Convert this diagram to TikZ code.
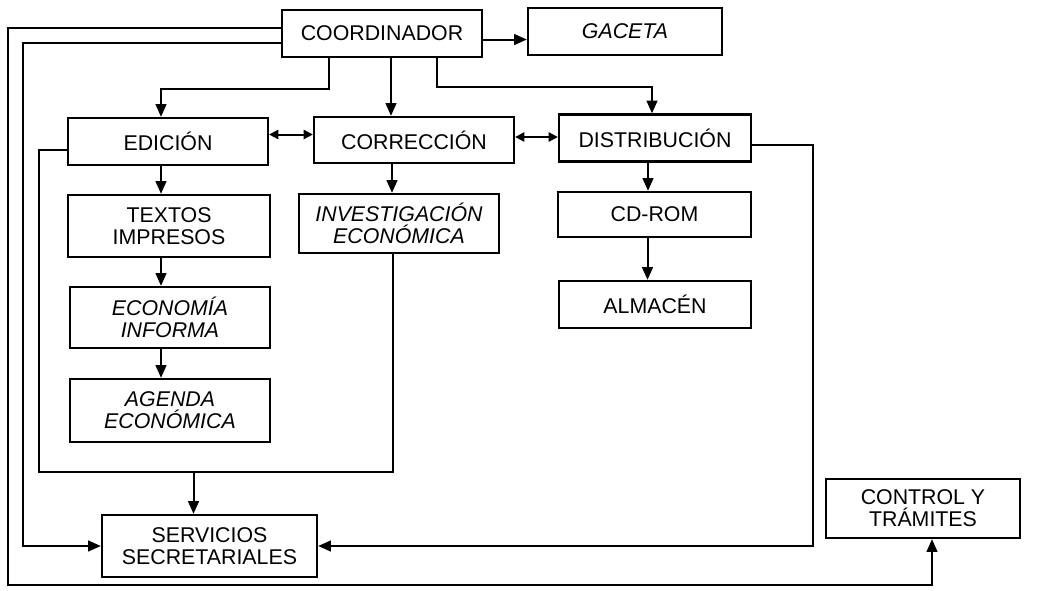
\documentclass[tikz,border=0pt]{standalone}
\usepackage{fontspec}
\setmainfont{Liberation Sans}
\usetikzlibrary{arrows.meta,calc}
\begin{document}
\begin{tikzpicture}[x=0.75pt,y=-0.75pt,
  box/.style={draw,line width=1.7pt,rectangle,align=center,inner sep=0pt,
    font=\fontsize{16}{16.5}\selectfont},
  conn/.style={line width=1.5pt},
  arr/.style={conn,-{Triangle[length=9.5pt,width=8pt]}},
  darr/.style={conn,{Triangle[length=7pt,width=7pt]}-{Triangle[length=7pt,width=7pt]}}]
\useasboundingbox (0,0) rectangle (1039,590);
% nodes
\node[box,minimum width=200*0.75pt,minimum height=47*0.75pt] (coord) at (382,33.5) {COORDINADOR};
\node[box,minimum width=194*0.75pt,minimum height=47*0.75pt] (gaceta) at (625,31.5) {\itshape GACETA};
\node[box,minimum width=200*0.75pt,minimum height=47*0.75pt] (edicion) at (168,141.5) {EDICIÓN};
\node[box,minimum width=200*0.75pt,minimum height=46*0.75pt] (correccion) at (414,140) {CORRECCIÓN};
\node[box,minimum width=192*0.75pt,minimum height=47*0.75pt] (distrib) at (655,138) {DISTRIBUCIÓN};
\node[box,minimum width=202*0.75pt,minimum height=62*0.75pt] (textos) at (169,226) {TEXTOS\\IMPRESOS};
\node[box,minimum width=200*0.75pt,minimum height=61*0.75pt] (econ) at (170,317.5) {\itshape ECONOMÍA\\\itshape INFORMA};
\node[box,minimum width=200*0.75pt,minimum height=63*0.75pt] (agenda) at (170,410.5) {\itshape AGENDA\\\itshape ECONÓMICA};
\node[box,minimum width=200*0.75pt,minimum height=59*0.75pt] (invest) at (399,223.5) {\itshape INVESTIGACIÓN\\\itshape ECONÓMICA};
\node[box,minimum width=193*0.75pt,minimum height=45*0.75pt] (cdrom) at (654.5,214.5) {CD-ROM};
\node[box,minimum width=192*0.75pt,minimum height=47*0.75pt] (almacen) at (655,304.5) {ALMACÉN};
\node[box,minimum width=215*0.75pt,minimum height=62*0.75pt] (servicios) at (209.5,546) {SERVICIOS\\SECRETARIALES};
\node[box,minimum width=194*0.75pt,minimum height=59*0.75pt] (control) at (923,508.5) {CONTROL Y\\TRÁMITES};
% connectors from COORDINADOR
\draw[arr] ($(coord.east)+(0,6)$) coordinate (g1) -- (g1 -| gaceta.west);
\draw[arr] ($(coord.south west)+(48,0)$) -- ++(0,31) -| ($(edicion.north)+(-7,0)$);
\draw[arr] ($(coord.south)+(9,0)$) coordinate (c2) -- (c2 |- correccion.north);
\draw[arr] ($(coord.south)+(55,0)$) -- ++(0,29) -| ($(distrib.north)+(-3,0)$);
\draw[arr] ($(coord.west)+(0,-5.5)$) -| ($(servicios.south west)+(-93,7)$) -| ($(control.south)+(9,0)$);
\draw[arr] ($(coord.west)+(0,9.5)$) -| ($(servicios.west)+(-78,0)$) -- (servicios.west);
% double arrows
\draw[darr] ($(edicion.east)+(0,-7)$) coordinate (d1) -- (d1 -| correccion.west);
\draw[darr] ($(correccion.east)+(0,-3)$) coordinate (d2) -- (d2 -| distrib.west);
% vertical chains
\draw[arr] ($(edicion.south)+(-7,0)$) coordinate (e1) -- (e1 |- textos.north);
\draw[arr] ($(textos.south)+(-8,0)$) coordinate (e2) -- (e2 |- econ.north);
\draw[arr] ($(econ.south)+(-9,0)$) coordinate (e3) -- (e3 |- agenda.north);
\draw[arr] ($(correccion.south)+(-22,0)$) coordinate (r1) -- (r1 |- invest.north);
\draw[arr] ($(distrib.south)+(-7,0)$) coordinate (t1) -- (t1 |- cdrom.north);
\draw[arr] ($(cdrom.south)+(-7,0)$) coordinate (t2) -- (t2 |- almacen.north);
% loop from EDICION and INVESTIGACION to SERVICIOS
\draw[conn] ($(edicion.west)+(0,8)$) -| ($(agenda.south west)+(-30,29)$) coordinate (lb) -| ($(invest.south)+(-6,0)$);
\draw[arr] ($(servicios.north)+(-16,0)$) coordinate (s1) (s1 |- lb) -- (s1);
% loop from DISTRIBUCION to SERVICIOS
\draw[arr] ($(distrib.east)+(0,7)$) -| ($(servicios.east)+(495,0)$) -- (servicios.east);
\end{tikzpicture}
\end{document}
